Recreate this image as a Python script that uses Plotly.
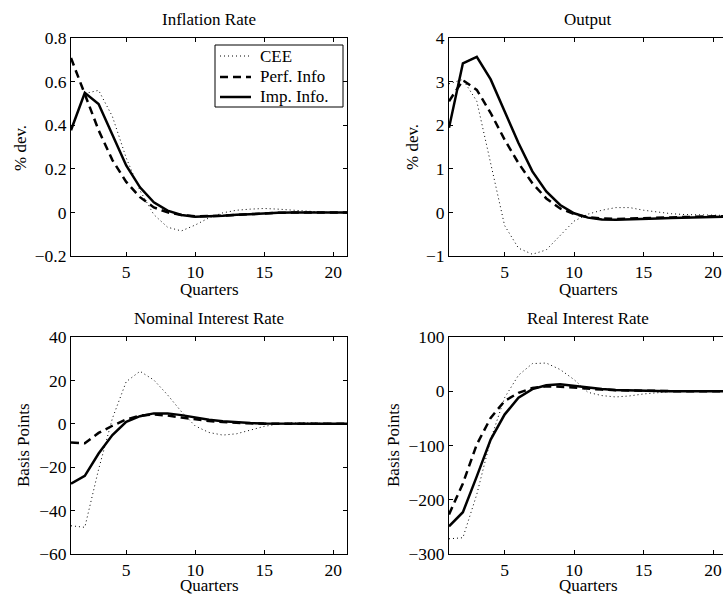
import plotly.graph_objects as go

quarters = list(range(1, 22))

infl_cee = [None, 0.545, 0.56, 0.44, 0.25, 0.10, -0.01, -0.068, -0.085, -0.058, -0.025, -0.002, 0.01, 0.015, 0.018, 0.015, 0.01, 0.006, 0.002, 0.0, -0.003]
infl_perf = [0.708, 0.546, 0.377, 0.24, 0.14, 0.07, 0.023, 0.0, -0.012, -0.018, -0.018, -0.015, -0.011, -0.007, -0.004, -0.002, -0.001, 0.0, 0.0, 0.0, 0.0]
infl_imp = [0.377, 0.549, 0.497, 0.354, 0.215, 0.115, 0.046, 0.008, -0.012, -0.02, -0.019, -0.015, -0.011, -0.007, -0.004, -0.002, -0.001, 0.0, 0.0, 0.0, 0.0]

out_cee = [2.95, 3.05, 2.55, 1.15, -0.3, -0.82, -0.96, -0.86, -0.53, -0.2, -0.04, 0.05, 0.11, 0.11, 0.05, 0.01, -0.03, -0.05, -0.06, -0.07, -0.07]
out_perf = [2.55, 3.03, 2.81, 2.28, 1.67, 1.13, 0.67, 0.32, 0.09, -0.04, -0.11, -0.14, -0.15, -0.145, -0.135, -0.125, -0.115, -0.105, -0.095, -0.09, -0.085]
out_imp = [1.94, 3.42, 3.57, 3.05, 2.32, 1.59, 0.94, 0.48, 0.17, -0.02, -0.12, -0.16, -0.17, -0.165, -0.155, -0.14, -0.13, -0.12, -0.11, -0.10, -0.10]

nom_cee = [-47.0, -47.7, -21.0, 2.5, 19.4, 24.2, 20.2, 13.3, 5.6, -1.0, -4.0, -5.2, -4.6, -2.9, -1.2, -0.1, 0.4, 0.4, 0.3, 0.2, 0.1]
nom_perf = [-8.6, -9.0, -4.2, -0.9, 2.0, 3.7, 4.3, 3.8, 2.9, 2.0, 1.3, 0.8, 0.4, 0.2, 0.05, 0.0, 0.0, 0.0, 0.0, 0.0, 0.0]
nom_imp = [-27.6, -24.0, -13.7, -5.2, 0.9, 3.5, 4.8, 4.8, 4.0, 2.8, 1.9, 1.2, 0.7, 0.35, 0.15, 0.05, 0.0, 0.0, 0.0, 0.0, 0.0]

real_cee = [-272, -270, -190, -89, -12, 29.5, 51, 52, 40, 21.5, -2, -8, -10.5, -8.6, -5, -2.5, -0.5, 0.5, 0.5, 0.3, 0.2]
real_perf = [-227, -170, -98, -49, -18, -3, 6, 9, 8.5, 6.5, 4.5, 3, 2, 1.2, 0.7, 0.4, 0.2, 0, 0, 0, 0]
real_imp = [-249, -223, -157, -89, -43, -12, 4, 11, 13, 10, 6.5, 4, 2.5, 1.5, 1, 0.5, 0.2, 0, 0, 0, 0]

series_names = ["CEE", "Perf. Info", "Imp. Info."]
panel_titles = ["Inflation Rate", "Output", "Nominal Interest Rate", "Real Interest Rate"]
y_titles = ["% dev.", "% dev.", "Basis Points", "Basis Points"]
x_title = "Quarters"
x_ticks = [5, 10, 15, 20]
y_ticks = [
    [-0.2, 0, 0.2, 0.4, 0.6, 0.8],
    [-1, 0, 1, 2, 3, 4],
    [-60, -40, -20, 0, 20, 40],
    [-300, -200, -100, 0, 100],
]
y_ticktext = [
    ["\u22120.2", "0", "0.2", "0.4", "0.6", "0.8"],
    ["\u22121", "0", "1", "2", "3", "4"],
    ["\u221260", "\u221240", "\u221220", "0", "20", "40"],
    ["\u2212300", "\u2212200", "\u2212100", "0", "100"],
]
panels = [
    (infl_cee, infl_perf, infl_imp),
    (out_cee, out_perf, out_imp),
    (nom_cee, nom_perf, nom_imp),
    (real_cee, real_perf, real_imp),
]

W, H = 723, 595
FONT = "Liberation Serif, Times New Roman, serif"


def X(px):
    return px / W


def Y(py):
    return 1 - py / H


# pixel boxes: (left, right, top, bottom)
boxes = [
    (71, 347, 38, 256),
    (449, 723, 38, 256),
    (71, 347, 337, 554),
    (449, 723, 337, 554),
]
x_ranges = [[1, 21], [1, 20.72], [1, 21], [1, 20.72]]
y_ranges = [[-0.2, 0.8], [-1, 4], [-60, 40], [-300, 100]]

styles = [
    dict(color="black", width=1, dash="1px,3px"),
    dict(color="black", width=2.5, dash="8px,5px"),
    dict(color="black", width=2.5),
]

fig = go.Figure()
for i, data in enumerate(panels):
    ax = "" if i == 0 else str(i + 1)
    for j, vals in enumerate(data):
        fig.add_trace(go.Scatter(
            x=quarters, y=vals, mode="lines", name=series_names[j],
            line=styles[j], showlegend=False,
            xaxis="x" + ax, yaxis="y" + ax, connectgaps=False,
        ))
    l, r, t, b = boxes[i]
    right_panel = i in (1, 3)
    fig.layout["xaxis" + ax] = dict(
        domain=[X(l), X(r)], range=x_ranges[i], anchor="y" + ax,
        tickvals=x_ticks, ticks="inside", ticklen=4, tickcolor="black",
        showline=True, linecolor="black", linewidth=1, mirror="ticks",
        showgrid=False, zeroline=False, automargin=False,
        tickfont=dict(family=FONT, size=17.5, color="black"),
    )
    fig.layout["yaxis" + ax] = dict(
        domain=[Y(b), Y(t)], range=y_ranges[i], anchor="x" + ax,
        tickvals=y_ticks[i], ticktext=y_ticktext[i],
        ticks="inside", ticklen=4, tickcolor="black",
        showline=True, linecolor="black", linewidth=1,
        mirror=(False if right_panel else "ticks"),
        showgrid=False, zeroline=False, automargin=False,
        tickfont=dict(family=FONT, size=17.5, color="black"),
    )

ann = []
title_pos = [(209, 20), (588, 20), (209, 318), (588, 318)]
xlab_pos = [(209, 289), (588, 289), (209, 585), (588, 585)]
ylab_pos = [(20, 148), (412, 147), (23, 445), (393, 445)]
for i in range(4):
    ann.append(dict(text=panel_titles[i], x=X(title_pos[i][0]), y=Y(title_pos[i][1]),
                    xref="paper", yref="paper", showarrow=False,
                    xanchor="center", yanchor="middle", borderpad=0,
                    font=dict(family=FONT, size=17, color="black")))
    ann.append(dict(text=x_title, x=X(xlab_pos[i][0]), y=Y(xlab_pos[i][1]),
                    xref="paper", yref="paper", showarrow=False,
                    xanchor="center", yanchor="middle", borderpad=0,
                    font=dict(family=FONT, size=17, color="black")))
    ann.append(dict(text=y_titles[i], x=X(ylab_pos[i][0]), y=Y(ylab_pos[i][1]),
                    xref="paper", yref="paper", showarrow=False, textangle=-90,
                    xanchor="center", yanchor="middle", borderpad=0,
                    font=dict(family=FONT, size=17, color="black")))

# manual legend (box, line samples, labels) in paper coordinates
shapes = [dict(type="rect", xref="paper", yref="paper",
               x0=X(215), x1=X(343), y0=Y(107), y1=Y(45),
               line=dict(color="black", width=1), fillcolor="white", layer="above")]
leg_rows = [56, 77, 97]
for j in range(3):
    shapes.append(dict(type="line", xref="paper", yref="paper",
                       x0=X(220), x1=X(251), y0=Y(leg_rows[j]), y1=Y(leg_rows[j]),
                       line=styles[j], layer="above"))
    ann.append(dict(text=series_names[j], x=X(259), y=Y(leg_rows[j]),
                    xref="paper", yref="paper", showarrow=False,
                    xanchor="left", yanchor="middle", borderpad=0,
                    font=dict(family=FONT, size=17, color="black")))

fig.update_layout(
    width=W, height=H,
    margin=dict(l=0, r=0, t=0, b=0, pad=0, autoexpand=False),
    autosize=False, showlegend=False,
    paper_bgcolor="white", plot_bgcolor="white",
    annotations=ann, shapes=shapes,
    font=dict(family=FONT, color="black"),
)

post = ("document.documentElement.style.margin='0';"
        "document.body.style.margin='0';document.body.style.padding='0';"
        "document.documentElement.style.overflow='hidden';"
        "document.body.style.overflow='hidden';")

fig.write_html("out.html", config={"responsive": False, "displayModeBar": False},
               post_script=post)
